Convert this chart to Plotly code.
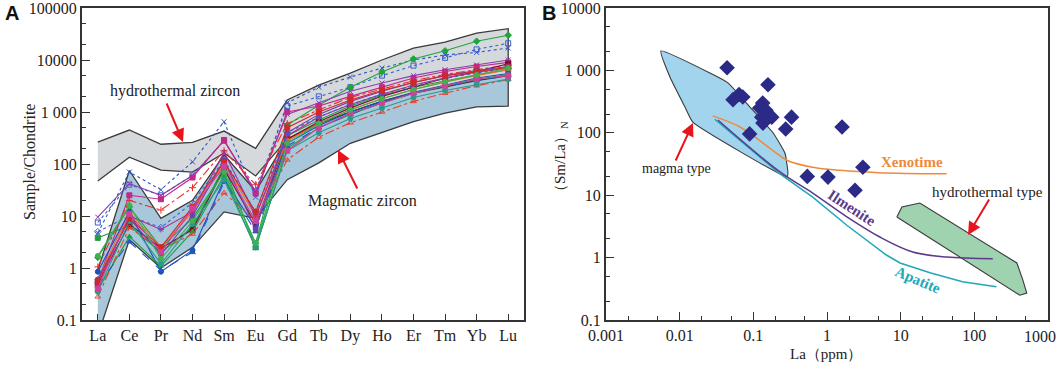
import plotly.graph_objects as go

W, H = 1059, 365
# ---------------- Panel A data ----------------
ree = ["La", "Ce", "Pr", "Nd", "Sm", "Eu", "Gd", "Tb", "Dy", "Ho", "Er", "Tm", "Yb", "Lu"]

hydro_upper = [263, 450, 240, 260, 430, 200, 1700, 3300, 5600, 10000, 17000, 22000, 33000, 40000]
hydro_lower = [47, 135, 76, 70, 163, 59, 300, 600, 1000, 1600, 2300, 3000, 4000, 5000]
magma_upper = [0.9, 75, 9, 20, 150, 30, 300, 600, 1000, 1600, 2300, 3000, 4000, 5000]
magma_lower = [0.05, 3.5, 1.0, 2.5, 12, 9, 50, 105, 250, 400, 650, 950, 1250, 1300]

s01 = [4.7, 70, 32, 110, 650, 23, 1500, 3000, 4700, 7000, 10000, 12500, 14000, 17000]
s02 = [7.5, 40, 25, 60, 280, 30, 1300, 2000, 3000, 5000, 7800, 11000, 16000, 21000]
s03 = [1.6, 15, 2.5, 9, 70, 3, 560, 1350, 3000, 5900, 10500, 15000, 23000, 30000]
s04 = [9.5, 42, 25, 60, 280, 30, 900, 1500, 2500, 3600, 5000, 6500, 8000, 10000]
s05 = [0.55, 25, 21, 55, 290, 27, 1000, 1300, 2000, 3000, 4500, 6000, 7500, 9000]
s06 = [1.05, 20, 13, 35, 180, 40, 600, 1100, 1900, 2800, 4000, 5300, 6500, 8000]
s07 = [3.8, 6.5, 2.0, 6, 90, 2.5, 350, 700, 1300, 2100, 3000, 4000, 5200, 6500]
s08 = [0.5, 7, 2.4, 5.5, 80, 7, 300, 650, 1200, 2000, 3000, 4500, 6000, 8500]
s09 = [0.6, 12, 2.5, 12, 100, 10, 280, 600, 1100, 1800, 2700, 3800, 5000, 6500]
s10 = [0.85, 12, 0.85, 2.2, 50, 6, 250, 550, 1000, 1600, 2400, 3300, 4500, 5500]
s11 = [0.38, 4, 1.1, 5, 60, 2.4, 200, 500, 900, 1500, 2300, 3200, 4200, 5300]
s12 = [0.28, 6, 2.2, 4.5, 28, 8, 120, 330, 620, 1000, 1600, 2300, 3200, 4200]
s13 = [0.45, 3.2, 0.9, 2.0, 45, 5, 220, 500, 900, 1500, 2300, 3100, 4000, 5000]
s14 = [0.45, 10, 5.5, 12, 170, 10, 350, 800, 1400, 2200, 3300, 4500, 5800, 7000]
s15 = [0.35, 8, 1.2, 7, 50, 2.5, 180, 400, 750, 1200, 1900, 2600, 3400, 4300]
s16 = [0.6, 9, 1.8, 10, 120, 5.5, 400, 900, 1600, 2500, 3700, 5000, 6300, 7500]
s17 = [5, 10, 6, 18, 120, 12, 400, 800, 1400, 2200, 3200, 4400, 5600, 7000]
s18 = [0.55, 9, 2.5, 15, 110, 12, 500, 1000, 1700, 2600, 3700, 5000, 6000, 7200]
s19 = [0.4, 11, 2, 14, 90, 8, 180, 500, 950, 1500, 2300, 3200, 4300, 5000]
s20 = [1.7, 16, 1.5, 8, 70, 3, 250, 600, 1100, 1800, 2700, 3800, 5200, 7000]

series_a = [s01, s02, s03, s04, s05, s06, s07, s08, s09, s10,
            s11, s12, s13, s14, s15, s16, s17, s18, s19, s20]
colors_a = ["#2f55c4", "#3a5fd0", "#22a33a", "#8a3fb0", "#c0288a", "#e8302a", "#1e9e3a", "#7a1030",
            "#f26a22", "#1c4fb8", "#18a040", "#e8402a", "#2456c8", "#b62a90", "#2a9a8a", "#7040b0",
            "#4060d0", "#d02828", "#d0409a", "#40b050"]
symbols_a = ["x-thin-open", "square-open", "diamond", "x-thin-open", "square", "cross-thin-open", "square",
             "square", "circle", "circle", "triangle-up", "triangle-up-open", "triangle-up", "asterisk-open",
             "circle", "circle", "diamond-open", "square", "square", "circle"]
dashes_a = ["dot", "dot", "solid", "solid", "solid", "dashdot", "solid", "solid", "solid", "solid",
            "solid", "dashdot", "dash", "solid", "solid", "solid", "dot", "solid", "solid", "solid"]

# ---------------- Panel B data ----------------
pts_la = [0.044, 0.158, 0.064, 0.072, 0.053, 0.134, 0.122, 0.148, 0.13, 0.178, 0.33, 0.135, 0.275,
          0.089, 0.54, 1.03, 1.6, 3.07, 2.4]
pts_sm = [1100, 590, 410, 375, 340, 300, 250, 230, 178, 178, 178, 143, 115,
          96, 20, 19.5, 124, 28, 12]

magma_la = [0.00557, 0.0258, 0.0452, 0.090, 0.185, 0.269, 0.295, 0.286, 0.0151, 0.0118, 0.0074, 0.00557]
magma_sm = [2045, 908, 630, 259, 100, 47, 22.7, 19.6, 148, 259, 775, 2045]

hydro_la = [8.87, 10.4, 18.2, 378, 455, 515, 414, 10.4, 8.87]
hydro_sm = [4.48, 6.47, 7.5, 0.82, 0.44, 0.27, 0.25, 4.0, 4.48]

xeno_la = [0.028, 0.066, 0.185, 0.29, 0.64, 1.5, 5, 42]
xeno_sm = [187, 124, 52, 36, 28, 25, 23, 22]

ilm_la = [0.033, 0.23, 0.64, 1.86, 5.2, 14.6, 42, 178]
ilm_sm = [160, 23.6, 10.8, 4.5, 2.14, 1.23, 1.02, 0.96]

apa_la = [0.03, 0.23, 0.64, 1.86, 6.4, 9.8, 25, 69, 200]
apa_sm = [165, 21.9, 9.3, 3.3, 1.1, 0.82, 0.57, 0.41, 0.34]

# ---------------- layout helpers ----------------
TOP, BOT = 8, 320


def px(x):
    return x / W


def py(y):
    return (BOT - y) / (BOT - TOP)


SERIF = "Liberation Serif"
AX = "#333333"

fig = go.Figure()

# Panel A envelopes
fig.add_trace(go.Scatter(x=ree + ree[::-1], y=hydro_upper + hydro_lower[::-1], fill="toself",
                         fillcolor="#d6d9db", line=dict(color="#3a3a3a", width=1.3), mode="lines",
                         xaxis="x", yaxis="y", showlegend=False, hoverinfo="skip"))
fig.add_trace(go.Scatter(x=ree + ree[::-1], y=magma_upper + magma_lower[::-1], fill="toself",
                         fillcolor="#a8c7da", line=dict(color="#3a3a3a", width=1.3), mode="lines",
                         xaxis="x", yaxis="y", showlegend=False, hoverinfo="skip"))

for s, c, m, d in zip(series_a, colors_a, symbols_a, dashes_a):
    fig.add_trace(go.Scatter(x=ree, y=s, mode="lines+markers", xaxis="x", yaxis="y",
                             line=dict(color=c, width=1.1, dash=d),
                             marker=dict(symbol=m, size=5, color=c, line=dict(color=c, width=1)),
                             showlegend=False))

# Panel B
fig.add_trace(go.Scatter(x=magma_la, y=magma_sm, fill="toself", fillcolor="#a3d4ee",
                         line=dict(color="#3a3a3a", width=1.1, shape="spline", smoothing=0.4),
                         mode="lines", xaxis="x2", yaxis="y2", showlegend=False))
fig.add_trace(go.Scatter(x=hydro_la, y=hydro_sm, fill="toself", fillcolor="#9fd2ae",
                         line=dict(color="#3a3a3a", width=1.1), mode="lines",
                         xaxis="x2", yaxis="y2", showlegend=False))
fig.add_trace(go.Scatter(x=xeno_la, y=xeno_sm, mode="lines", line=dict(color="#f08a3a", width=1.5, shape="spline"),
                         xaxis="x2", yaxis="y2", showlegend=False))
fig.add_trace(go.Scatter(x=apa_la, y=apa_sm, mode="lines", line=dict(color="#1ea8b8", width=1.5),
                         xaxis="x2", yaxis="y2", showlegend=False))
fig.add_trace(go.Scatter(x=ilm_la, y=ilm_sm, mode="lines", line=dict(color="#5b3a8c", width=1.5, shape="spline"),
                         xaxis="x2", yaxis="y2", showlegend=False))
fig.add_trace(go.Scatter(x=pts_la, y=pts_sm, mode="markers",
                         marker=dict(symbol="diamond", size=12, color="#2b2a86"),
                         xaxis="x2", yaxis="y2", showlegend=False))

tickfont = dict(family=SERIF, size=16, color="#222222")
common = dict(showline=True, mirror=True, linecolor=AX, linewidth=2, ticks="inside", tickcolor=AX,
              tickwidth=1.2, showgrid=False, zeroline=False, tickfont=tickfont, automargin=False,
              ticklabeloverflow="allow")
minor = dict(ticks="inside", ticklen=4, tickcolor=AX, showgrid=False)

fig.update_layout(
    width=W, height=H,
    margin=dict(l=0, r=0, t=TOP, b=H - BOT, autoexpand=False),
    paper_bgcolor="white", plot_bgcolor="white",
    xaxis=dict(domain=[px(82), px(524)], type="category", range=[-0.5, 13.5], ticklen=6, anchor="y", **common),
    yaxis=dict(domain=[0, 1], type="log", range=[-1, 5],
               tickvals=[0.1, 1, 10, 100, 1000, 10000, 100000],
               ticktext=["0.1", "1", "10", "100", "1 000", "10000", "100000"],
               ticklen=8, minor=minor, anchor="x", **common),
    xaxis2=dict(domain=[px(606), px(1048)], type="log", range=[-3, 3],
                tickvals=[0.001, 0.01, 0.1, 1, 10, 100],
                ticktext=["0.001", "0.01", "0.1", "1", "10", "100"],
                ticklen=8, minor=minor, anchor="y2", **common),
    yaxis2=dict(domain=[0, 1], type="log", range=[-1, 4],
                tickvals=[0.1, 1, 10, 100, 1000, 10000],
                ticktext=["0.1", "1", "10", "100", "1 000", "10000"],
                ticklen=8, minor=minor, anchor="x2", **common),
)

ann = []


def text(x, y, t, size=16, color="#222222", angle=0, bold=False, family=SERIF):
    ann.append(dict(x=px(x), y=py(y), xref="paper", yref="paper", text=("<b>%s</b>" % t) if bold else t,
                    showarrow=False, textangle=angle, font=dict(family=family, size=size, color=color),
                    xanchor="center", yanchor="middle"))


def arrow(hx, hy, tx, ty):
    ann.append(dict(x=px(hx), y=py(hy), xref="paper", yref="paper", ax=tx - hx, ay=ty - hy,
                    text="", showarrow=True, arrowhead=2, arrowsize=1.3, arrowwidth=2,
                    arrowcolor="#e8141c"))


text(12, 13, "A", size=20, bold=True, family="Liberation Sans", color="#111111")
text(549, 13, "B", size=20, bold=True, family="Liberation Sans", color="#111111")
text(30, 162, "Sample/Chondrite", size=16, angle=-90)
text(175, 91, "hydrothermal zircon", size=16)
text(362, 201, "Magmatic zircon", size=16)
arrow(183, 142, 166, 102)
arrow(338, 150, 358, 190)

text(561, 160, "（Sm/La）<sub>N</sub>", size=15, angle=-90)
text(827, 354, "La（ppm）", size=15)
text(1040, 336, "1000", size=16)  # right-most x tick label, pulled inside the page edge
text(676, 168, "magma type", size=14)
text(987, 192, "hydrothermal type", size=15)
text(912, 162, "Xenotime", size=15, color="#f08a3a", bold=True)
text(852, 208, "Ilmenite", size=15, color="#5b3a8c", bold=True, angle=33)
text(918, 280, "Apatite", size=15, color="#1ea8b8", bold=True, angle=23)
arrow(693, 123, 675, 162)
arrow(968, 235, 990, 198)

fig.update_layout(annotations=ann)
fig.write_html("out.html", config={"displayModeBar": False},
               post_script="document.body.style.margin='0px';")
